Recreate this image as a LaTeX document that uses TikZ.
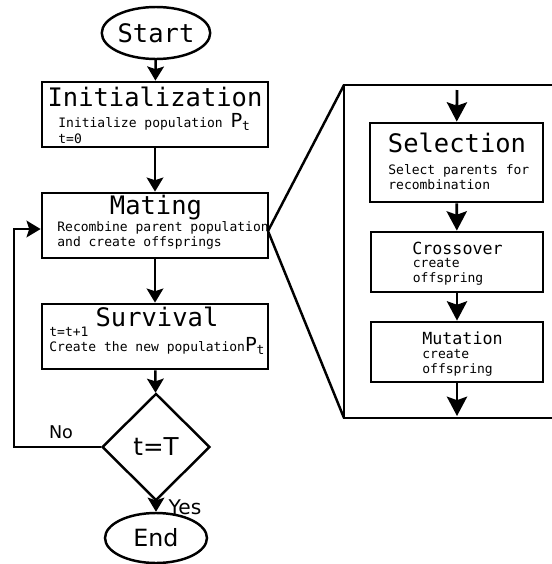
\documentclass[tikz,border=0pt]{standalone}
\usepackage{fontspec}
\setmonofont{DejaVu Sans Mono}
\setsansfont{DejaVu Sans}
\usepackage{tikz}
\usetikzlibrary{shapes.geometric, positioning, arrows.meta, calc}
\tikzset{
  terminal/.style={ellipse, draw=black, line width=1.4pt, minimum width=2.04cm, minimum height=1.04cm, inner sep=0pt},
  stagebox/.style={rectangle, draw=black, line width=1.6pt, minimum width=4.52cm, minimum height=1.30cm},
  opbox/.style={rectangle, draw=black, line width=1.6pt, minimum width=3.44cm, minimum height=1.20cm},
  decision/.style={diamond, draw=black, line width=1.4pt, minimum width=2.16cm, minimum height=2.14cm, inner sep=0pt},
  title/.style={font=\ttfamily\fontsize{14.5}{16}\selectfont, inner sep=0pt},
  subtitle/.style={font=\ttfamily\fontsize{9.5}{11}\selectfont, inner sep=0pt},
  body/.style={font=\ttfamily\fontsize{7.4}{8.6}\selectfont, align=left, inner sep=0pt, anchor=west},
  arrow/.style={line width=1.4pt, -{Stealth[length=8pt, width=9.5pt, inset=1.5pt]}},
  bigarrow/.style={line width=1.6pt, -{Stealth[length=11pt, width=11.5pt, inset=2pt]}}
}
\newcommand{\popP}{{\sffamily\fontsize{11}{10}\selectfont P}\raisebox{-0.4ex}{t}}

\begin{document}
\begin{tikzpicture}
    \useasboundingbox (0,0) rectangle (11.02,-11.28);

    % ==========================================
    % 1. Flujo principal
    % ==========================================
    \node[terminal, font=\ttfamily\fontsize{14.5}{16}\selectfont] (start) at (3.12,-0.66) {Start};

    \node[stagebox] (init) at (3.10,-2.29) {};
    \node[title] (inittitle) at (3.10,-1.94) {Initialization};
    \node[body] (initbody) at (1.16,-2.57) {Initialize population \popP\\t=0};

    \node[stagebox] (mating) at (3.10,-4.51) {};
    \node[title] (matingtitle) at (3.12,-4.16) {Mating};
    \node[body] (matingbody) at (1.14,-4.71) {Recombine parent population\\and create offsprings};

    \node[stagebox] (survival) at (3.10,-6.73) {};
    \node[title] (survivaltitle) at (3.14,-6.34) {Survival};
    \node[body] (survivalbody) at (0.98,-6.82) {t=t+1\\Create the new population\popP};

    \node[decision, font=\sffamily\fontsize{14}{16}\selectfont] (check) at (3.12,-8.94) {t=T};

    \node[terminal, minimum height=1.0cm, font=\sffamily\fontsize{13.5}{16}\selectfont] (finish) at (3.12,-10.76) {End};

    % Flechas del flujo principal
    \draw[arrow] (start) -- (init);
    \draw[arrow] (init) -- (mating);
    \draw[arrow] (mating) -- (survival);
    \draw[arrow] (survival) -- (check);
    \draw[arrow] (check) -- (finish);

    % Rama "No" de vuelta a Mating
    \coordinate (loop) at (0.28,-4.58);
    \draw[arrow, line width=1.1pt] (check.west) -- (check.west -| loop) -- (loop) -- (loop -| mating.west);
    \node[font=\sffamily\fontsize{10}{12}\selectfont] (nolabel) at (1.22,-8.64) {No};
    \node[font=\sffamily\fontsize{11.5}{12}\selectfont] (yeslabel) at (3.70,-10.14) {Yes};

    % ==========================================
    % 2. Detalle de Mating (lado derecho)
    % ==========================================
    \coordinate (zoompt) at (5.36,-4.62);
    \coordinate (ztl) at (6.88,-1.70);
    \coordinate (zbl) at (6.88,-8.36);
    \draw[line width=1.6pt] (11.1,-1.70) -- (ztl) -- (zbl) -- (11.1,-8.36);
    \draw[line width=1.4pt] (ztl) -- (zoompt) -- (zbl);

    \node[opbox, minimum width=3.46cm, minimum height=1.58cm] (selection) at (9.13,-3.25) {};
    \node[title] (selectiontitle) at (9.14,-2.86) {Selection};
    \node[body] (selectionbody) at (7.76,-3.54) {Select parents for\\recombination};

    \node[opbox] (crossover) at (9.14,-5.24) {};
    \node[subtitle] (crossovertitle) at (9.15,-4.96) {Crossover};
    \node[body] (crossoverbody) at (8.25,-5.43) {create\\offspring};

    \node[opbox] (mutation) at (9.14,-7.04) {};
    \node[subtitle] (mutationtitle) at (9.25,-6.76) {Mutation};
    \node[body] (mutationbody) at (8.44,-7.25) {create\\offspring};

    % Flechas internas
    \coordinate (zin) at (9.14,-1.80);
    \coordinate (zout) at (9.14,-8.32);
    \draw[bigarrow] (zin) -- (selection);
    \draw[bigarrow] (selection) -- (crossover);
    \draw[bigarrow] (crossover) -- (mutation);
    \draw[bigarrow] (mutation) -- (zout);

\end{tikzpicture}
\end{document}
